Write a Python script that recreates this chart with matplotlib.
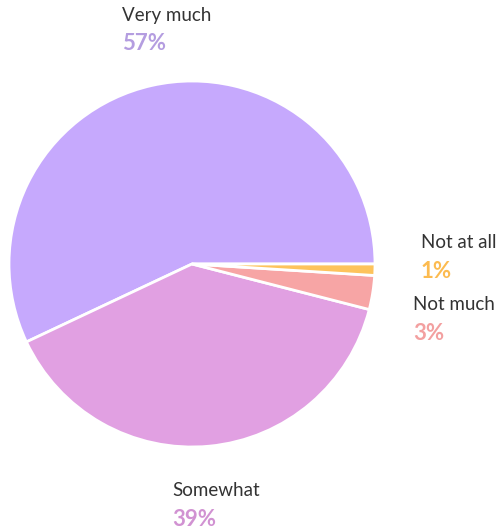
import matplotlib.pyplot as plt

# answer shares, counterclockwise from 3 o'clock
labels = ["Very much", "Somewhat", "Not much", "Not at all"]
values = [57, 39, 3, 1]
slice_colors = ["#c6a9fd", "#e1a0e2", "#f7a5a5", "#fdc35c"]
pct_colors = ["#b49de0", "#d192d2", "#f3a0a0", "#fcbb50"]

# where each label block sits (pixels, top-left origin)
label_xy = [(122, 16), (172, 491), (413, 305), (421, 243)]

W, H = 504, 531
fig = plt.figure(figsize=(W / 100, H / 100), dpi=100)
ax = fig.add_axes([0, 0, 1, 1])

ax.pie(values, colors=slice_colors, startangle=0, counterclock=True,
       center=(192, H - 264), radius=183, frame=True,
       wedgeprops=dict(edgecolor="white", linewidth=2))
ax.set_xlim(0, W)
ax.set_ylim(0, H)
ax.axis("off")

for lab, v, c, (x, y) in zip(labels, values, pct_colors, label_xy):
    ax.text(x, H - y, lab, fontsize=13.5, family="Lato", color="#333333",
            ha="left", va="center")
    ax.text(x, H - y - 28, f"{v}%", fontsize=16, family="Lato",
            fontweight="bold", color=c, ha="left", va="center")

fig.savefig("out.png", dpi=100)
